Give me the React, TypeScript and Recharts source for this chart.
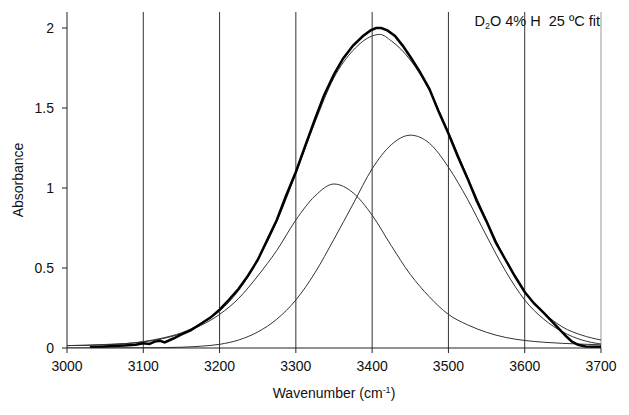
import { LineChart, Line, XAxis, YAxis, ReferenceLine, Label } from 'recharts';

// measured spectrum (thick), fitted sum and two fitted bands
const measured = [
  { x: 3030, y: 0.005 }, { x: 3045, y: 0.008 }, { x: 3060, y: 0.012 }, { x: 3075, y: 0.016 },
  { x: 3090, y: 0.02 }, { x: 3100, y: 0.03 }, { x: 3108, y: 0.025 }, { x: 3115, y: 0.04 },
  { x: 3122, y: 0.045 }, { x: 3128, y: 0.035 }, { x: 3135, y: 0.05 }, { x: 3142, y: 0.065 },
  { x: 3150, y: 0.085 }, { x: 3162, y: 0.11 }, { x: 3175, y: 0.15 }, { x: 3188, y: 0.19 },
  { x: 3200, y: 0.24 }, { x: 3212, y: 0.3 }, { x: 3225, y: 0.37 }, { x: 3237, y: 0.45 },
  { x: 3250, y: 0.55 }, { x: 3262, y: 0.67 }, { x: 3275, y: 0.8 }, { x: 3287, y: 0.95 },
  { x: 3300, y: 1.1 }, { x: 3312, y: 1.26 }, { x: 3325, y: 1.43 }, { x: 3337, y: 1.58 },
  { x: 3350, y: 1.71 }, { x: 3362, y: 1.81 }, { x: 3375, y: 1.89 }, { x: 3388, y: 1.95 },
  { x: 3398, y: 1.985 }, { x: 3405, y: 2.0 }, { x: 3412, y: 2.0 }, { x: 3420, y: 1.985 },
  { x: 3430, y: 1.95 }, { x: 3440, y: 1.89 }, { x: 3450, y: 1.82 }, { x: 3462, y: 1.73 },
  { x: 3475, y: 1.62 }, { x: 3487, y: 1.48 }, { x: 3500, y: 1.34 }, { x: 3512, y: 1.2 },
  { x: 3525, y: 1.06 }, { x: 3537, y: 0.92 }, { x: 3550, y: 0.79 }, { x: 3562, y: 0.66 },
  { x: 3575, y: 0.55 }, { x: 3587, y: 0.45 }, { x: 3600, y: 0.35 }, { x: 3612, y: 0.28 },
  { x: 3625, y: 0.22 }, { x: 3635, y: 0.17 }, { x: 3645, y: 0.12 }, { x: 3655, y: 0.07 },
  { x: 3662, y: 0.04 }, { x: 3670, y: 0.02 }, { x: 3680, y: 0.01 }, { x: 3690, y: 0.008 },
  { x: 3700, y: 0.008 },
];

const fitSum = [
  { x: 3000, y: 0.015 }, { x: 3050, y: 0.02 }, { x: 3100, y: 0.04 }, { x: 3125, y: 0.062 },
  { x: 3150, y: 0.095 }, { x: 3175, y: 0.15 }, { x: 3200, y: 0.23 }, { x: 3225, y: 0.36 },
  { x: 3250, y: 0.55 }, { x: 3275, y: 0.79 }, { x: 3300, y: 1.09 }, { x: 3325, y: 1.41 },
  { x: 3350, y: 1.69 }, { x: 3375, y: 1.86 }, { x: 3400, y: 1.95 }, { x: 3410, y: 1.96 },
  { x: 3425, y: 1.92 }, { x: 3450, y: 1.8 }, { x: 3475, y: 1.61 }, { x: 3500, y: 1.35 },
  { x: 3525, y: 1.07 }, { x: 3550, y: 0.8 }, { x: 3575, y: 0.55 }, { x: 3600, y: 0.35 },
  { x: 3625, y: 0.22 }, { x: 3650, y: 0.13 }, { x: 3675, y: 0.08 }, { x: 3700, y: 0.05 },
];

const band1 = [
  { x: 3000, y: 0.015 }, { x: 3050, y: 0.022 }, { x: 3100, y: 0.038 }, { x: 3125, y: 0.058 },
  { x: 3150, y: 0.09 }, { x: 3175, y: 0.14 }, { x: 3200, y: 0.21 }, { x: 3225, y: 0.31 },
  { x: 3250, y: 0.45 }, { x: 3275, y: 0.61 }, { x: 3300, y: 0.8 }, { x: 3325, y: 0.95 },
  { x: 3350, y: 1.025 }, { x: 3375, y: 0.97 }, { x: 3400, y: 0.83 }, { x: 3425, y: 0.64 },
  { x: 3450, y: 0.46 }, { x: 3475, y: 0.32 }, { x: 3500, y: 0.21 }, { x: 3525, y: 0.145 },
  { x: 3550, y: 0.098 }, { x: 3575, y: 0.066 }, { x: 3600, y: 0.047 }, { x: 3625, y: 0.036 },
  { x: 3650, y: 0.029 }, { x: 3675, y: 0.024 }, { x: 3700, y: 0.02 },
];

const band2 = [
  { x: 3000, y: 0.0 }, { x: 3100, y: 0.001 }, { x: 3150, y: 0.005 }, { x: 3175, y: 0.011 },
  { x: 3200, y: 0.023 }, { x: 3225, y: 0.05 }, { x: 3250, y: 0.1 }, { x: 3275, y: 0.18 },
  { x: 3300, y: 0.3 }, { x: 3325, y: 0.47 }, { x: 3350, y: 0.68 }, { x: 3375, y: 0.9 },
  { x: 3400, y: 1.12 }, { x: 3425, y: 1.27 }, { x: 3450, y: 1.33 }, { x: 3475, y: 1.28 },
  { x: 3500, y: 1.13 }, { x: 3525, y: 0.93 }, { x: 3550, y: 0.7 }, { x: 3575, y: 0.48 },
  { x: 3600, y: 0.3 }, { x: 3625, y: 0.18 }, { x: 3650, y: 0.1 }, { x: 3675, y: 0.05 },
  { x: 3700, y: 0.025 },
];

const xTicks = [3000, 3100, 3200, 3300, 3400, 3500, 3600, 3700];
const yTicks = [0, 0.5, 1, 1.5, 2];
const gridX = [3100, 3200, 3300, 3400, 3500, 3600];

const font = '"Liberation Sans", Arial, sans-serif';
const tick = { fontSize: 14, fill: '#111', fontFamily: font };

export default function App() {
  return (
    <div style={{ position: 'absolute', left: 0, top: 0, width: 629, height: 415, background: '#fff', fontFamily: font }}>
      <LineChart width={629} height={415} margin={{ top: 12, right: 28, bottom: 17, left: 17 }}>
        <XAxis
          type="number"
          dataKey="x"
          domain={[3000, 3700]}
          ticks={xTicks}
          tick={tick}
          tickSize={5}
          tickMargin={8}
          height={50}
          stroke="#222"
          allowDataOverflow
        >
          <Label
            content={({ viewBox }: any) => (
              <text
                x={viewBox.x + viewBox.width / 2}
                y={viewBox.y + 50}
                textAnchor="middle"
                fontSize={14}
                fontFamily={font}
                fill="#111"
              >
                Wavenumber (cm
                <tspan dy={-5} fontSize={9}>-1</tspan>
                <tspan dy={5}>)</tspan>
              </text>
            )}
          />
        </XAxis>
        <YAxis
          type="number"
          domain={[0, 2.1]}
          ticks={yTicks}
          tick={tick}
          tickSize={5}
          tickMargin={8}
          width={50}
          stroke="#222"
          allowDataOverflow
        >
          <Label value="Absorbance" angle={-90} position="center" dx={-24} style={{ fontSize: 14, fontFamily: font, fill: '#111' }} />
        </YAxis>
        {gridX.map((g) => (
          <ReferenceLine key={g} x={g} stroke="#333" strokeWidth={1} />
        ))}
        <ReferenceLine x={3700} stroke="#999" strokeWidth={1} />
        <Line data={band1} dataKey="y" type="monotone" stroke="#333" strokeWidth={1} dot={false} isAnimationActive={false} />
        <Line data={band2} dataKey="y" type="monotone" stroke="#333" strokeWidth={1} dot={false} isAnimationActive={false} />
        <Line data={fitSum} dataKey="y" type="monotone" stroke="#333" strokeWidth={1} dot={false} isAnimationActive={false} />
        <Line data={measured} dataKey="y" type="linear" stroke="#000" strokeWidth={2.5} dot={false} isAnimationActive={false} />
      </LineChart>
      <div style={{ position: 'absolute', right: 29, top: 13, fontSize: 14.5, color: '#111', whiteSpace: 'pre', textAlign: 'right' }}>
        D<sub style={{ fontSize: 9, verticalAlign: -3 }}>2</sub>O 4% H  25 ºC fit
      </div>
    </div>
  );
}
